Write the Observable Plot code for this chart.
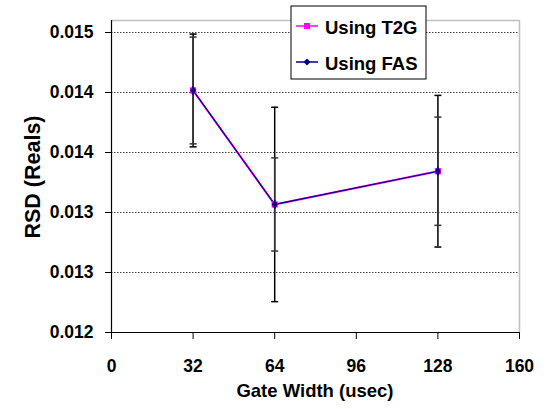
<!DOCTYPE html>
<html><head><meta charset="utf-8">
<script src="https://cdn.jsdelivr.net/npm/d3@7"></script>
<script src="https://cdn.jsdelivr.net/npm/@observablehq/plot@0.6"></script>
<style>body{margin:0;background:#fff} svg{display:block}</style>
</head><body><div id="chart"></div>
<script>
const gateWidths = [32, 64, 128];
const rsdT2G = [0.014517, 0.013567, 0.013844];
const rsdFAS = [0.014517, 0.013567, 0.013844];
const errT2G = [0.000445, 0.000388, 0.000451];
const errFAS = [0.000470, 0.000810, 0.000632];
const xTicks = [0, 32, 64, 96, 128, 160];
const yTicks = [0.0125, 0.013, 0.0135, 0.014, 0.0145, 0.015];
const yTickLabels = ["0.012", "0.013", "0.013", "0.014", "0.014", "0.015"];
const seriesNames = ["Using T2G", "Using FAS"];
const seriesColors = ["#ff00ff", "#000080"];
const xTitle = "Gate Width (usec)";
const yTitle = "RSD (Reals)";

const t2g = gateWidths.map((x, i) => ({x, y: rsdT2G[i], lo: rsdT2G[i] - errT2G[i], hi: rsdT2G[i] + errT2G[i]}));
const fas = gateWidths.map((x, i) => ({x, y: rsdFAS[i], lo: rsdFAS[i] - errFAS[i], hi: rsdFAS[i] + errFAS[i]}));

const cap = {draw(ctx, size) { const w = Math.sqrt(size / Math.PI); ctx.moveTo(-w, 0); ctx.lineTo(w, 0); }};
const font = "'Liberation Sans', Arial, sans-serif";

const W = 547, H = 409;
const plot = Plot.plot({
  width: W, height: H,
  marginLeft: 111, marginRight: 28, marginTop: 20, marginBottom: 77,
  style: {fontFamily: font, fontSize: "17px", fontWeight: "bold", color: "black", background: "white"},
  x: {domain: [0, 160]},
  y: {domain: [0.0125, 0.0151]},
  marks: [
    Plot.ruleY(yTicks.slice(1), {stroke: "#444", strokeDasharray: "1.5,1.5", strokeWidth: 1}),
    Plot.ruleX([160], {stroke: "#c0c0c0", strokeWidth: 1.5}),
    Plot.ruleY([0.0151], {stroke: "#c0c0c0", strokeWidth: 1.5}),
    Plot.ruleX(fas, {x: "x", y1: "lo", y2: "hi", stroke: "#000", strokeWidth: 1.5}),
    Plot.dot(fas, {x: "x", y: "lo", symbol: cap, r: 3.5, stroke: "#000", strokeWidth: 1.5}),
    Plot.dot(fas, {x: "x", y: "hi", symbol: cap, r: 3.5, stroke: "#000", strokeWidth: 1.5}),
    Plot.ruleX(t2g, {x: "x", y1: "lo", y2: "hi", stroke: "#333", strokeWidth: 1.5}),
    Plot.dot(t2g, {x: "x", y: "lo", symbol: cap, r: 3.5, stroke: "#333", strokeWidth: 1.5}),
    Plot.dot(t2g, {x: "x", y: "hi", symbol: cap, r: 3.5, stroke: "#333", strokeWidth: 1.5}),
    Plot.line(t2g, {x: "x", y: "y", stroke: seriesColors[0], strokeWidth: 2}),
    Plot.line(fas, {x: "x", y: "y", stroke: seriesColors[1], strokeWidth: 1.2}),
    Plot.dot(t2g, {x: "x", y: "y", symbol: "square", r: 3.5, fill: seriesColors[0]}),
    Plot.dot(fas, {x: "x", y: "y", symbol: "diamond", r: 3, fill: seriesColors[1]}),
    Plot.ruleX([0], {stroke: "black", strokeWidth: 1.2}),
    Plot.ruleY([0.0125], {stroke: "black", strokeWidth: 1.2}),
    Plot.axisY({ticks: yTicks, tickFormat: (d, i) => yTickLabels[i], tickSize: 6, tickPadding: 12,
      fontSize: 17.5, fontWeight: "bold", label: null}),
    Plot.axisX({ticks: xTicks, tickFormat: d => String(d), tickSize: 7, tickPadding: 20,
      fontSize: 17.5, fontWeight: "bold", label: null})
  ]
});

const svg = d3.select(plot);
svg.append("text").attr("x", 315).attr("y", 397).attr("text-anchor", "middle")
  .attr("font-family", font).attr("font-size", 18.5).attr("font-weight", "bold").text(xTitle);
svg.append("text").attr("transform", "translate(40,177) rotate(-90)").attr("text-anchor", "middle")
  .attr("font-family", font).attr("font-size", 21.5).attr("font-weight", "bold").text(yTitle);

const lg = svg.append("g");
lg.append("rect").attr("x", 291).attr("y", 6).attr("width", 135).attr("height", 73)
  .attr("fill", "white").attr("stroke", "black").attr("stroke-width", 1);
const rowY = [26, 62];
seriesNames.forEach((name, i) => {
  const y = rowY[i];
  lg.append("line").attr("x1", 296).attr("x2", 318).attr("y1", y).attr("y2", y)
    .attr("stroke", seriesColors[i]).attr("stroke-width", 1.5);
  if (i === 0) lg.append("rect").attr("x", 304).attr("y", y - 3).attr("width", 6).attr("height", 6).attr("fill", seriesColors[i]);
  else lg.append("path").attr("d", `M307,${y-3.5}L310.5,${y}L307,${y+3.5}L303.5,${y}Z`).attr("fill", seriesColors[i]);
  lg.append("text").attr("x", 325).attr("y", y + 8).attr("text-anchor", "start").attr("font-family", font).attr("font-size", 18.5)
    .attr("font-weight", "bold").text(name);
});

document.getElementById("chart").appendChild(plot);
</script>
</body></html>
